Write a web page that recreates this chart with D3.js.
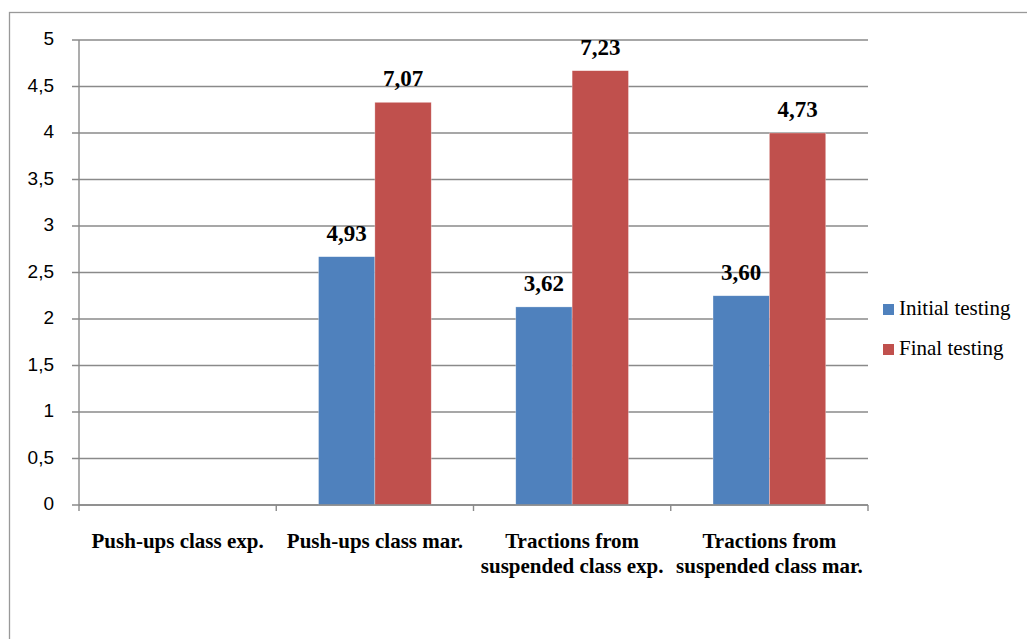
<!DOCTYPE html>
<html>
<head>
<meta charset="utf-8">
<script src="https://cdn.jsdelivr.net/npm/d3@7"></script>
<style>
  body { margin: 0; background: #fff; }
  svg { display: block; }
</style>
</head>
<body>
<div id="chart"></div>
<script>
// data (bar heights follow the axis, labels are the printed values)
const categories = ['Push-ups class exp.', 'Push-ups class mar.', 'Tractions from\nsuspended class exp.', 'Tractions from\nsuspended class mar.'];
const seriesNames = ['Initial testing', 'Final testing'];
const initialValues = [null, 2.67, 2.13, 2.25];
const finalValues = [null, 4.33, 4.67, 4.0];
const initialLabels = ['', '4,93', '3,62', '3,60'];
const finalLabels = ['', '7,07', '7,23', '4,73'];
const yTicks = [0, 0.5, 1, 1.5, 2, 2.5, 3, 3.5, 4, 4.5, 5];

const colors = ['#4F81BD', '#C0504D'];
const width = 1027, height = 639;
const grey = '#8a8a8a';
const serif = "'Liberation Serif', 'Times New Roman', serif";

const svg = d3.select('#chart').append('svg')
    .attr('width', width)
    .attr('height', height);

// outer chart frame (runs off the right and bottom of the picture)
svg.append('rect')
    .attr('x', 9.5).attr('y', 12.5)
    .attr('width', 1040).attr('height', 660)
    .attr('fill', 'none')
    .attr('stroke', '#999').attr('stroke-width', 1.3);

const x = d3.scaleBand().domain(categories).range([79, 868]);
const xs = d3.scaleBand().domain(seriesNames).range([0, x.bandwidth()]).paddingOuter(0.75);
const y = d3.scaleLinear().domain([0, 5]).range([505, 40]);

// gridlines + y labels
const yAxis = svg.append('g').attr('class', 'y-axis');
yAxis.selectAll('line.grid').data(yTicks).enter().append('line')
    .attr('class', 'grid')
    .attr('x1', 72).attr('x2', 868)
    .attr('y1', d => y(d)).attr('y2', d => y(d))
    .attr('stroke', grey).attr('stroke-width', 1.4);
yAxis.selectAll('text').data(yTicks).enter().append('text')
    .attr('x', 54).attr('y', d => y(d))
    .attr('text-anchor', 'end')
    .attr('dominant-baseline', 'middle')
    .attr('font-family', "'Liberation Sans', Arial, sans-serif")
    .attr('font-size', 19)
    .attr('fill', '#000')
    .text(d => String(d).replace('.', ','));

// y axis line
svg.append('line')
    .attr('x1', 79).attr('x2', 79)
    .attr('y1', y(5)).attr('y2', y(0))
    .attr('stroke', grey).attr('stroke-width', 1.4);

// bars
const data = categories.map((c, i) => ({
    cat: c,
    vals: [
        { s: seriesNames[0], v: initialValues[i], label: initialLabels[i] },
        { s: seriesNames[1], v: finalValues[i], label: finalLabels[i] }
    ]
}));

const groups = svg.selectAll('g.cat').data(data).enter().append('g')
    .attr('class', 'cat')
    .attr('transform', d => `translate(${x(d.cat)},0)`);

const bars = groups.selectAll('g.bar').data(d => d.vals.filter(v => v.v != null)).enter()
    .append('g').attr('class', 'bar');

bars.append('rect')
    .attr('x', d => xs(d.s))
    .attr('width', xs.bandwidth())
    .attr('y', d => y(d.v))
    .attr('height', d => y(0) - y(d.v))
    .attr('fill', d => colors[seriesNames.indexOf(d.s)])
    .attr('stroke', '#fff').attr('stroke-opacity', 0.5).attr('stroke-width', 0.6);

bars.append('text')
    .attr('x', d => xs(d.s) + xs.bandwidth() / 2)
    .attr('y', d => y(d.v) - 16)
    .attr('text-anchor', 'middle')
    .attr('font-family', serif)
    .attr('font-weight', 'bold')
    .attr('font-size', 23)
    .attr('fill', '#000')
    .text(d => d.label);

// x axis line + ticks
svg.append('line')
    .attr('x1', 79).attr('x2', 868)
    .attr('y1', y(0)).attr('y2', y(0))
    .attr('stroke', grey).attr('stroke-width', 1.4);
const xTickPos = categories.map(c => x(c)).concat([x.range()[1]]);
svg.selectAll('line.xtick').data(xTickPos).enter().append('line')
    .attr('class', 'xtick')
    .attr('x1', d => d).attr('x2', d => d)
    .attr('y1', y(0)).attr('y2', y(0) + 6)
    .attr('stroke', grey).attr('stroke-width', 1.4);

// category labels
const catLabels = svg.selectAll('text.cat').data(categories).enter().append('text')
    .attr('class', 'cat')
    .attr('x', d => x(d) + x.bandwidth() / 2)
    .attr('y', 548)
    .attr('text-anchor', 'middle')
    .attr('font-family', serif)
    .attr('font-weight', 'bold')
    .attr('font-size', 21)
    .attr('fill', '#000');
catLabels.selectAll('tspan').data(d => d.split('\n')).enter().append('tspan')
    .attr('x', function () { return d3.select(this.parentNode).attr('x'); })
    .attr('dy', (d, i) => i === 0 ? 0 : 25)
    .text(d => d);

// legend
const legend = svg.append('g').attr('class', 'legend');
const li = legend.selectAll('g').data(seriesNames).enter().append('g')
    .attr('transform', (d, i) => `translate(883,${304 + i * 40})`);
li.append('rect')
    .attr('width', 11).attr('height', 11)
    .attr('fill', (d, i) => colors[i]);
li.append('text')
    .attr('x', 16).attr('y', 6)
    .attr('dominant-baseline', 'middle')
    .attr('font-family', serif)
    .attr('font-size', 21)
    .attr('fill', '#000')
    .text(d => d);
</script>
</body>
</html>
